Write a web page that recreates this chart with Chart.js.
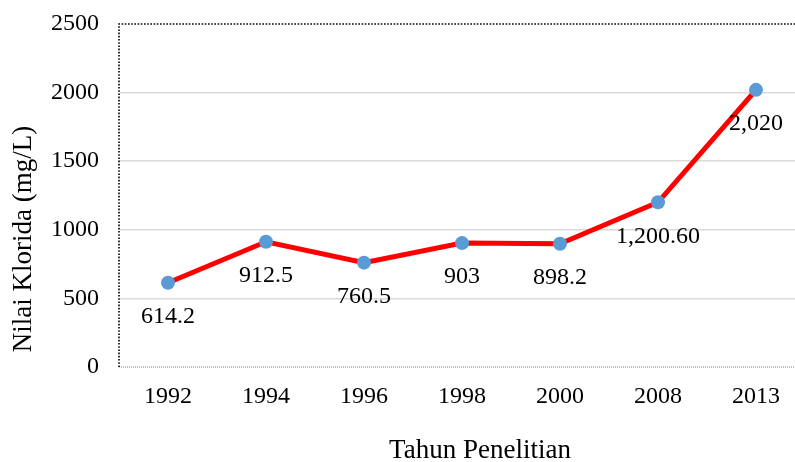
<!DOCTYPE html>
<html>
<head>
<meta charset="utf-8">
<script src="https://cdn.jsdelivr.net/npm/chart.js@4/dist/chart.umd.min.js"></script>
<style>
  html, body { margin: 0; padding: 0; overflow: hidden; background: #fff; }
  #wrap { width: 795px; height: 462px; overflow: hidden; }
  canvas { display: block; }
</style>
</head>
<body>
<div id="wrap"><canvas id="c" width="805" height="462"></canvas></div>
<script>
const years = ['1992', '1994', '1996', '1998', '2000', '2008', '2013'];
const chloride = [614.2, 912.5, 760.5, 903, 898.2, 1200.6, 2020];
const valueLabels = ['614.2', '912.5', '760.5', '903', '898.2', '1,200.60', '2,020'];
const yTitle = 'Nilai Klorida (mg/L)';
const xTitle = 'Tahun Penelitian';

const FONT = '"Liberation Serif", "Times New Roman", serif';

const decor = {
  id: 'decor',
  beforeDatasetsDraw(chart) {
    const { ctx, chartArea: a } = chart;
    ctx.save();
    ctx.strokeStyle = '#bfbfbf';
    ctx.lineWidth = 2;
    ctx.setLineDash([1, 1]);
    ctx.beginPath();
    ctx.moveTo(a.left, a.bottom);
    ctx.lineTo(a.right, a.bottom);
    ctx.stroke();
    ctx.strokeStyle = '#000';
    ctx.lineWidth = 1.6;
    ctx.setLineDash([1.6, 1.6]);
    ctx.beginPath();
    ctx.moveTo(a.left, a.bottom);
    ctx.lineTo(a.left, a.top);
    ctx.lineTo(a.right, a.top);
    ctx.lineTo(a.right, a.bottom);
    ctx.stroke();
    ctx.restore();
  },
  afterDatasetsDraw(chart) {
    const { ctx } = chart;
    const meta = chart.getDatasetMeta(0);
    ctx.save();
    ctx.font = '24px ' + FONT;
    ctx.fillStyle = '#000';
    ctx.textAlign = 'center';
    ctx.textBaseline = 'middle';
    meta.data.forEach((pt, i) => {
      ctx.fillText(valueLabels[i], pt.x, pt.y + 34);
    });
    ctx.font = '27px ' + FONT;
    ctx.fillText(xTitle, 480, 451);
    ctx.translate(24, 239);
    ctx.rotate(-Math.PI / 2);
    ctx.fillText(yTitle, 0, 0);
    ctx.restore();
  }
};

new Chart(document.getElementById('c'), {
  type: 'line',
  data: {
    labels: years,
    datasets: [{
      data: chloride,
      borderColor: '#ff0000',
      borderWidth: 5,
      pointRadius: 7,
      pointHoverRadius: 7,
      pointBackgroundColor: '#5b9bd5',
      pointBorderColor: '#5b9bd5',
      pointBorderWidth: 0,
      tension: 0,
      clip: false
    }]
  },
  options: {
    responsive: false,
    animation: false,
    events: [],
    layout: { autoPadding: false, padding: { top: 24, left: 0, right: 0, bottom: 0 } },
    plugins: { legend: { display: false }, tooltip: { enabled: false } },
    scales: {
      x: {
        offset: true,
        grid: { display: false, drawTicks: false },
        border: { display: false },
        ticks: { color: '#000', font: { family: FONT, size: 24 }, padding: 15, maxRotation: 0 },
        afterFit(s) { s.height = 95; s.paddingLeft = 0; s.paddingRight = 0; }
      },
      y: {
        min: 0,
        max: 2500,
        ticks: { stepSize: 500, color: '#000', font: { family: FONT, size: 24 }, padding: 20, callback: (v) => String(v) },
        grid: {
          drawTicks: false,
          lineWidth: 1.5,
          color: (c) => (c.tick && (c.tick.value === 0 || c.tick.value === 2500)) ? 'rgba(0,0,0,0)' : '#d9d9d9'
        },
        border: { display: false },
        afterFit(s) { s.width = 119; s.paddingTop = 0; s.paddingBottom = 0; }
      }
    }
  },
  plugins: [decor]
});
</script>
</body>
</html>
